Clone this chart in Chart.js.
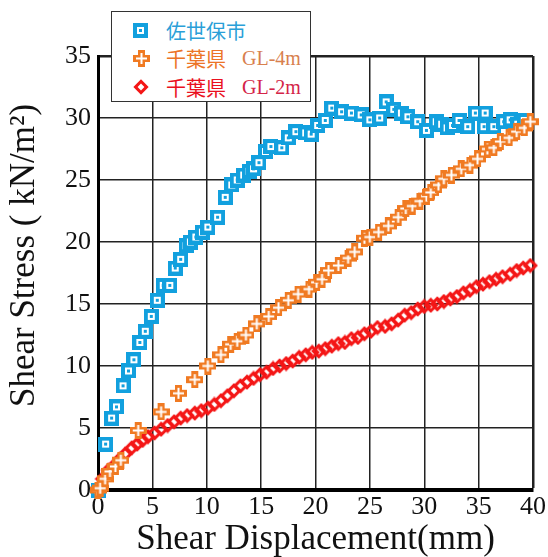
<!DOCTYPE html>
<html>
<head>
<meta charset="utf-8">
<script src="https://cdn.jsdelivr.net/npm/chart.js@4.4.1/dist/chart.umd.min.js"></script>
<style>
  body { margin: 0; background: #fff; }
  #wrap { position: relative; width: 548px; height: 557px; }
  #legend {
    position: absolute; left: 111px; top: 11px; width: 198px; height: 89px;
    border: 1.5px solid #333; background: #fff;
  }
  .row { position: absolute; left: 0; height: 28px; display: flex; align-items: center; }
  .row img { position: absolute; left: 21px; }
  .jp { position: absolute; left: 54px; font-family: 'Noto Sans CJK JP', sans-serif; font-size: 20px; white-space: nowrap; }
  .gl { position: absolute; left: 130px; font-family: 'Liberation Serif', serif; font-size: 20px; white-space: nowrap; }
</style>
</head>
<body>
<div id="wrap">
  <canvas id="chart" width="548" height="557"></canvas>
  <div id="legend"></div>
</div>
<script>
// — Data (x: displacement mm, y: stress kN/m2) —
const sasebo = [
  [0,0],[0.7,3.7],[1.25,5.8],[1.7,6.7],[2.3,8.4],[2.8,9.6],[3.3,10.5],[3.85,11.9],[4.35,12.8],
  [4.9,14.0],[5.45,15.3],[6.0,16.5],[6.6,16.5],[7.1,17.9],[7.6,18.6],[8.1,19.7],[8.5,20.0],
  [9.0,20.4],[9.6,20.8],[10.1,21.2],[11.0,22.0],[11.7,23.6],[12.3,24.6],[12.8,25.0],[13.4,25.4],
  [13.9,25.7],[14.3,25.9],[14.8,26.4],[15.4,27.3],[15.9,27.7],[16.9,27.6],[17.5,28.4],[18.2,28.9],
  [19.1,28.8],[19.6,28.7],[20.2,29.4],[20.9,29.8],[21.5,30.8],[22.4,30.5],[23.3,30.4],[24.2,30.25],
  [25.0,29.85],[25.9,30.0],[26.5,31.3],[27.2,30.7],[27.9,30.4],[28.5,30.1],[29.4,29.7],[30.2,29.0],
  [31.1,29.7],[31.6,29.5],[32.1,29.2],[32.6,29.4],[33.2,29.8],[34.0,29.3],[34.7,30.4],[35.5,29.3],
  [35.6,30.4],[36.4,29.3],[37.3,29.7],[37.9,29.85],[38.6,29.5],[39.2,29.8]
];
const chibaGL4 = [
  [0,0],[0.2,0.15],[0.65,0.9],[1.1,1.5],[1.6,1.9],[2.1,2.4],[3.7,4.8],[5.8,6.3],[7.4,7.8],
  [8.9,8.9],[10.1,10.0],[11.3,10.9],[12.2,11.75],[12.8,12.0],[13.6,12.5],[14.6,13.4],[15.7,14.0],
  [16.6,14.7],[17.5,15.3],[18.4,15.8],[19.4,16.2],[20.1,16.75],[20.6,17.0],[21.2,17.7],[22.1,18.1],
  [23.0,18.7],[23.6,19.2],[24.5,20.3],[25.0,20.4],[25.8,20.8],[26.7,21.3],[27.6,22.0],[28.3,22.7],
  [28.9,22.9],[29.6,23.3],[30.2,23.7],[30.6,24.0],[31.3,24.6],[31.8,25.1],[32.5,25.4],[33.4,25.9],
  [34.2,26.2],[34.9,26.7],[35.8,27.5],[36.4,27.6],[37.0,28.1],[37.8,28.4],[38.5,28.9],[39.2,29.2],
  [39.75,29.7]
];
const chibaGL2 = [
  [0.4,0.9],[0.95,1.6],[1.5,2.0],[2.0,2.5],[2.5,2.9],[3.1,3.4],[3.6,3.7],[4.1,4.0],[4.6,4.3],
  [5.2,4.6],[5.8,4.9],[6.4,5.2],[7.0,5.5],[7.6,5.8],[8.2,6.0],[8.9,6.2],[9.5,6.4],[10.1,6.6],
  [10.7,6.9],[11.3,7.2],[11.9,7.6],[12.5,8.0],[13.1,8.4],[13.7,8.7],[14.3,9.0],[14.9,9.3],
  [15.5,9.5],[16.1,9.8],[16.7,10.0],[17.3,10.2],[17.9,10.4],[18.5,10.7],[19.1,10.9],[19.7,11.1],
  [20.3,11.2],[20.9,11.4],[21.5,11.6],[22.1,11.8],[22.7,11.9],[23.3,12.2],[23.9,12.3],[24.5,12.6],
  [25.1,12.8],[25.7,13.1],[26.4,13.2],[27.0,13.4],[27.6,13.7],[28.2,14.1],[28.8,14.3],[29.4,14.6],
  [30.0,14.8],[30.6,14.9],[31.2,15.0],[31.8,15.2],[32.4,15.4],[33.0,15.6],[33.6,15.9],[34.2,16.1],
  [34.8,16.4],[35.4,16.6],[36.0,16.8],[36.6,17.0],[37.2,17.2],[37.9,17.4],[38.5,17.7],[39.1,17.9],
  [39.75,18.1]
];
const seriesNames = ['佐世保市', '千葉県', '千葉県'];
const seriesTags  = ['', 'GL-4m', 'GL-2m'];
const xTicks = [0, 5, 10, 15, 20, 25, 30, 35, 40];
const yTicks = [0, 5, 10, 15, 20, 25, 30, 35];

// — Colours —
const BLUE = '#12a0de', ORANGE = '#f07a22', RED = '#f41616';

// — Marker images —
function squareMarker() {
  const c = document.createElement('canvas'); c.width = c.height = 15;
  const g = c.getContext('2d');
  g.fillStyle = BLUE; g.fillRect(0, 0, 15, 15);
  g.fillStyle = '#fff'; g.fillRect(4, 4, 7, 7);
  g.fillStyle = BLUE; g.fillRect(6, 6, 3, 3);
  return c;
}
function crossMarker() {
  const c = document.createElement('canvas'); c.width = c.height = 17;
  const g = c.getContext('2d');
  g.fillStyle = ORANGE;
  g.fillRect(5, 0, 7, 17); g.fillRect(0, 5, 17, 7);
  g.fillStyle = '#fff';
  g.fillRect(7.5, 3, 2, 11); g.fillRect(3, 7.5, 11, 2);
  return c;
}
function diamondMarker() {
  const c = document.createElement('canvas'); c.width = c.height = 16;
  const g = c.getContext('2d');
  g.translate(8, 8); g.rotate(Math.PI / 4);
  g.strokeStyle = RED; g.lineWidth = 3;
  g.strokeRect(-3.9, -3.9, 7.8, 7.8);
  return c;
}
const markers = [squareMarker(), crossMarker(), diamondMarker()];

const toPts = arr => arr.map(([x, y]) => ({ x, y }));

// — HTML legend —
const legendEl = document.getElementById('legend');
const textColors = [['#2a9fd8', ''], ['#ec7426', '#d8804e'], ['#ea1020', '#d42448']];
seriesNames.forEach((name, i) => {
  const row = document.createElement('div');
  row.className = 'row';
  row.style.top = (4 + i * 28.5) + 'px';
  row.style.width = '100%';
  const img = document.createElement('img');
  img.src = markers[i].toDataURL();
  row.appendChild(img);
  const jp = document.createElement('span');
  jp.className = 'jp'; jp.textContent = name; jp.style.color = textColors[i][0];
  row.appendChild(jp);
  if (seriesTags[i]) {
    const gl = document.createElement('span');
    gl.className = 'gl'; gl.textContent = seriesTags[i]; gl.style.color = textColors[i][1];
    row.appendChild(gl);
  }
  legendEl.appendChild(row);
});

// — Chart —
Chart.defaults.font.family = "'Liberation Serif', serif";
Chart.defaults.color = '#111';

new Chart(document.getElementById('chart'), {
  type: 'scatter',
  data: {
    datasets: [
      { label: seriesNames[0], data: toPts(sasebo),   pointStyle: markers[0], order: 2 },
      { label: seriesNames[1] + ' ' + seriesTags[1], data: toPts(chibaGL4), pointStyle: markers[1], order: 0 },
      { label: seriesNames[2] + ' ' + seriesTags[2], data: toPts(chibaGL2), pointStyle: markers[2], order: 1 }
    ]
  },
  options: {
    responsive: false,
    animation: false,
    devicePixelRatio: 1,
    clip: false,
    layout: { padding: { top: 56, right: 11, left: 0, bottom: 0 } },
    plugins: { legend: { display: false }, tooltip: { enabled: false } },
    scales: {
      x: {
        type: 'linear', min: 0, max: 40,
        afterBuildTicks: s => { s.ticks = xTicks.map(v => ({ value: v })); },
        afterFit: s => { s.height = 67; },
        ticks: { font: { size: 26 }, padding: 2, maxRotation: 0 },
        grid: { color: '#222', lineWidth: c => (c.tick && c.tick.value === 40 ? 2.5 : 1.5), drawTicks: false },
        border: { display: true, color: '#000', width: 4 },
        title: { display: true, text: 'Shear Displacement(mm)', font: { size: 35 }, padding: { top: 0, bottom: -4 } }
      },
      y: {
        type: 'linear', min: 0, max: 35,
        afterBuildTicks: s => { s.ticks = yTicks.map(v => ({ value: v })); },
        afterFit: s => { s.width = 98; },
        ticks: { font: { size: 26 }, padding: 7 },
        grid: { color: '#222', lineWidth: c => (c.tick && c.tick.value === 35 ? 2.5 : 1.5), drawTicks: false },
        border: { display: true, color: '#000', width: 3 },
        title: { display: true, text: '    Shear Stress ( kN/m²)', font: { size: 35 }, padding: { top: 4, bottom: 0 } }
      }
    }
  }
});
</script>
</body>
</html>
